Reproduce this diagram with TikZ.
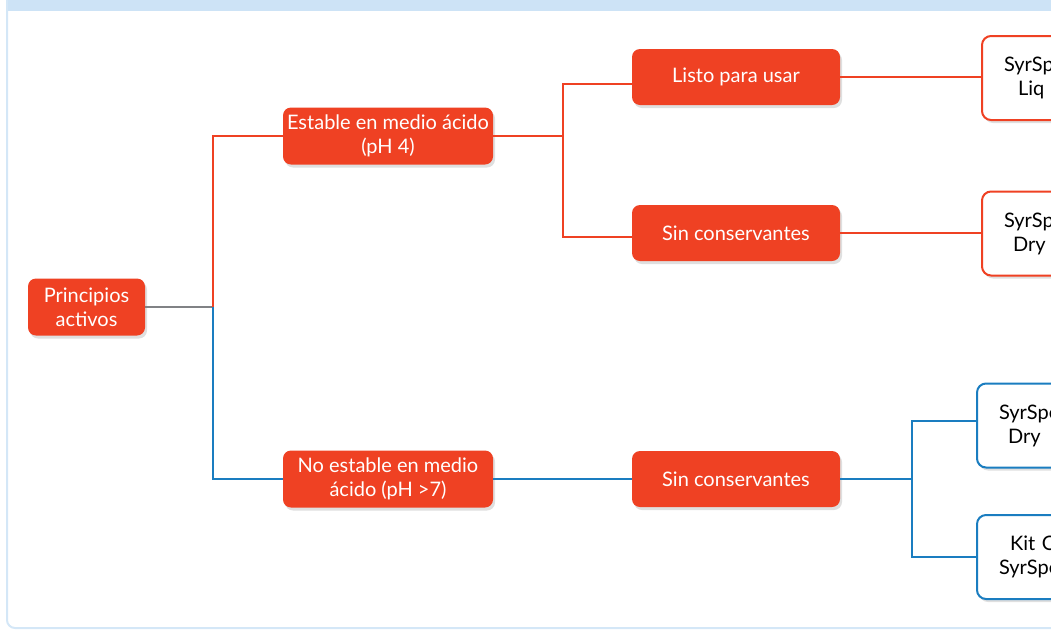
\documentclass[tikz,border=0pt]{standalone}
\usepackage{fontspec}
\setmainfont{Lato}
\usetikzlibrary{shadows}
\definecolor{boxred}{HTML}{EF4123}
\definecolor{lineblue}{HTML}{1A7DC0}
\definecolor{linegray}{HTML}{808285}
\definecolor{framebl}{HTML}{CDE3F6}
\begin{document}
\begin{tikzpicture}[x=1pt,y=-1pt]
            \tikzstyle{every node}+=[inner sep=0pt, font=\fontsize{20}{24}\selectfont]
            \tikzstyle{fillbox}=[rectangle, rounded corners=8pt, fill=boxred, text=white, align=center, minimum height=57pt, drop shadow={shadow xshift=2pt, shadow yshift=-3pt, opacity=0.25}]
            \tikzstyle{endbox}=[rectangle, rounded corners=9pt, draw, line width=2pt, fill=white, text=black, anchor=west, minimum height=84pt, text width=200pt, align=left, inner xsep=22pt, drop shadow={shadow xshift=2pt, shadow yshift=-3pt, opacity=0.25}]
            \tikzstyle{link}=[line width=2pt]
            \useasboundingbox (0,0) rectangle (1051,630);
            \clip (0,0) rectangle (1051,630);
            \fill [framebl] (6,0) rectangle (1051,11);
            \draw [framebl!85, line width=2pt, rounded corners=8pt] (7,0) -- (7,628) -- (1060,628);
            \node [fillbox, minimum width=117pt] (prin) at (86.5,307) {Principios\\activos};
            \node [fillbox, minimum width=210pt] (estable) at (388,136) {Estable en medio ácido\\(pH 4)};
            \node [fillbox, minimum width=210pt] (noestable) at (388,479) {No estable en medio\\ácido (pH >7)};
            \node [fillbox, minimum width=208pt, minimum height=56pt] (listo) at (736,77) {Listo para usar};
            \node [fillbox, minimum width=208pt, minimum height=56pt] (sinA) at (736,233) {Sin conservantes};
            \node [fillbox, minimum width=208pt, minimum height=56pt] (sinB) at (736,479) {Sin conservantes};
            \node [endbox, draw=boxred] (liquido) at (981,78) {SyrSp\\\hspace*{14pt}Liq};
            \node [endbox, draw=boxred] (dryA) at (981,233.5) {SyrSp\\\hspace*{9pt}Dry};
            \node [endbox, draw=lineblue] (dryB) at (976,425.5) {SyrSpe\\\hspace*{9pt}Dry};
            \node [endbox, draw=lineblue] (kit) at (976,557) {\hspace*{11pt}Kit O\\SyrSpe};
            \coordinate (fork) at (213,307);
            \coordinate (forkA) at (563,136);
            \coordinate (forkB) at (912,479);
            \draw [link, linegray] (prin.east) -- (fork);
            \draw [link, boxred] (fork) |- (estable.west);
            \draw [link, lineblue] (fork) |- (noestable.west);
            \draw [link, boxred] (estable.east) -- (forkA) |- ([yshift=-7pt]listo.west);
            \draw [link, boxred] (forkA) |- ([yshift=-4pt]sinA.west);
            \draw [link, boxred] (listo.east) -- (listo.east -| liquido.west);
            \draw [link, boxred] (sinA.east) -- (sinA.east -| dryA.west);
            \draw [link, lineblue] (noestable.east) -- (sinB.west);
            \draw [link, lineblue] (sinB.east) -- (forkB) |- ([yshift=5pt]dryB.west);
            \draw [link, lineblue] (forkB) |- (kit.west);
        \end{tikzpicture}
\end{document}
